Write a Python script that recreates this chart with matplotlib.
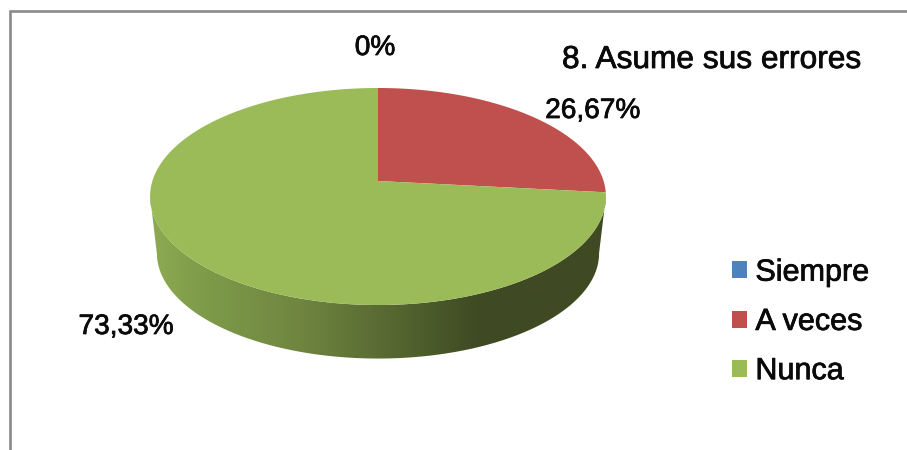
import numpy as np
import matplotlib
matplotlib.use("Agg")
import matplotlib.pyplot as plt
import matplotlib.patheffects as pe
from matplotlib.colors import LinearSegmentedColormap
from matplotlib.path import Path
from matplotlib.patches import PathPatch
from matplotlib.transforms import Transform, Affine2D

categories = ["Siempre", "A veces", "Nunca"]
values = [0, 26.67, 73.33]
value_labels = ["0%", "26,67%", "73,33%"]
colors = ["#4f81bd", "#c0504d", "#9bbb59"]
title = "8. Asume sus errores"

plt.rcParams["font.family"] = ["Liberation Sans", "DejaVu Sans"]

CX, CY, A, B, K = 378.0, 181.0, 225.6, 106.3, 0.1429
DEPTH, SHRINK, MID_Y = 56.8, 0.97, 196.5


class TiltedDisc(Transform):
    """Projects the unit pie disc onto the tilted top face (pixel-like data units)."""
    input_dims = output_dims = 2
    is_separable = False
    has_inverse = False

    def transform_non_affine(self, xy):
        xy = np.asarray(xy, float)
        w = 1 + K * xy[:, 1]
        return np.column_stack([CX + A * xy[:, 0] / w, CY - B * xy[:, 1] / w])

    def transform_path_non_affine(self, path):
        polys = Affine2D().scale(2000).transform_path(path).to_polygons(closed_only=True)
        v = polys[0] / 2000 if len(polys) else np.zeros((1, 2))
        return Path(self.transform_non_affine(v), closed=False)


fig = plt.figure(figsize=(9.07, 4.5), dpi=100, facecolor="white")
ax = fig.add_axes([0, 0, 1, 1])

wedges, _ = ax.pie(values, colors=colors, startangle=90, counterclock=False)
ax.set_box_aspect(None)
ax.set_aspect("auto")
ax.set_xlim(0, 907)
ax.set_ylim(450, 0)
ax.axis("off")

disc = TiltedDisc()
for w in wedges:
    w.set_transform(disc + ax.transData)
    w.set_zorder(3)
    w.set_linewidth(0)

# side wall: lower rim of the top face joined to the lower rim of the base
t = np.linspace(0, 2 * np.pi, 721)
rim = disc.transform_non_affine(np.column_stack([np.sin(t), np.cos(t)]))
left_i, right_i = np.argmin(rim[:, 0]), np.argmax(rim[:, 0])
lower = rim[right_i:left_i + 1]
base = lower.copy()
base[:, 0] = CX + SHRINK * (lower[:, 0] - CX)
base[:, 1] = MID_Y + DEPTH + SHRINK * (lower[:, 1] - MID_Y)
side = np.vstack([lower, base[::-1]])
shade = LinearSegmentedColormap.from_list("side", [
    (0.00, "#8eab52"), (0.10, "#7f9d4a"), (0.33, "#6f8540"),
    (0.50, "#5a6c33"), (0.62, "#4a5a2a"), (0.72, "#3f4a23"), (1.00, "#3f4a23")])
img = ax.imshow(np.linspace(0, 1, 460)[None, :], cmap=shade, aspect="auto",
                extent=(150, 606, 400, 180), zorder=2, interpolation="bilinear")
ax.set_xlim(0, 907)
ax.set_ylim(450, 0)
clip = PathPatch(Path(side, closed=False), transform=ax.transData, fc="none", ec="none")
ax.add_patch(clip)
img.set_clip_path(clip)

# chart frame
ax.plot([9.5, 9.5, 907], [450, 11, 11], color="#8a8a8a", lw=1.9, zorder=1,
        solid_joinstyle="miter")

# labels
ink = "#0a0a0a"
heavy = [pe.withStroke(linewidth=0.55, foreground=ink)]
ax.text(562, 68, title, fontsize=22.8, color=ink, ha="left", va="baseline", zorder=5,
        path_effects=heavy)
label_pos = [(375, 55), (592.5, 118), (126, 334)]
for lab, (x, y) in zip(value_labels, label_pos):
    ax.text(x, y, lab, fontsize=20.2, color=ink, ha="center", va="baseline", zorder=5,
            path_effects=heavy)

leg = ax.legend(wedges, categories, loc="upper left", bbox_to_anchor=(723, 248.5),
                bbox_transform=ax.transData, frameon=False, fontsize=22,
                handlelength=0.48, handleheight=0.48, handletextpad=0.28,
                labelspacing=0.63, borderpad=0.3, borderaxespad=0, labelcolor=ink)
for h in leg.get_patches():
    h.set_linewidth(0)
for txt in leg.get_texts():
    txt.set_path_effects(heavy)

fig.savefig("out.png", dpi=100, facecolor="white")
